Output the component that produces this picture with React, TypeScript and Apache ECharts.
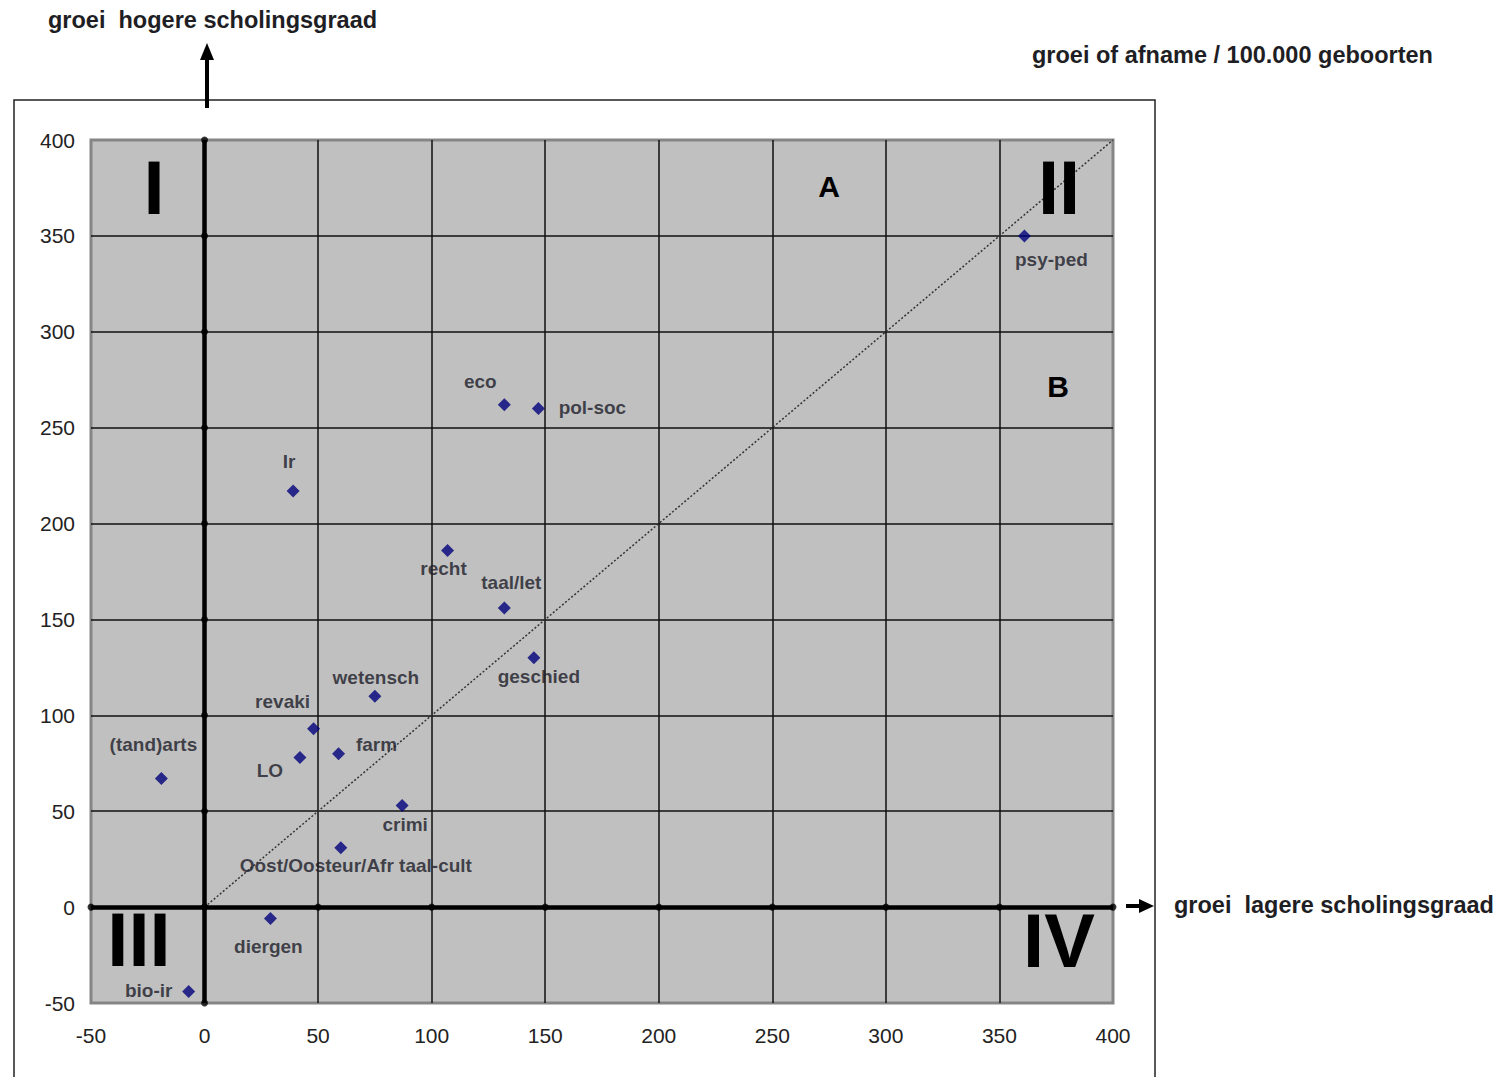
import React, { useEffect, useRef } from "react";
import * as echarts from "echarts";

// ---- data ----
const names = [
  "psy-ped", "eco", "pol-soc", "Ir", "recht", "taal/let", "geschied", "wetensch",
  "revaki", "LO", "farm", "(tand)arts", "crimi", "Oost/Oosteur/Afr taal-cult", "diergen", "bio-ir",
];
const lowerGrowth = [361, 132, 147, 39, 107, 132, 145, 75, 48, 42, 59, -19, 87, 60, 29, -7];
const higherGrowth = [350, 262, 260, 217, 186, 156, 130, 110, 93, 78, 80, 67, 53, 31, -6, -44];
const xTicks = [-50, 0, 50, 100, 150, 200, 250, 300, 350, 400];
const yTicks = [-50, 0, 50, 100, 150, 200, 250, 300, 350, 400];
const diagonal = [[0, 0], [400, 400]];

// label offsets (px, style only)
const labelOffsets: [number, number][] = [
  [27, 24], [-24, -23], [54, -1], [-4, -29], [-4, 18], [7, -25], [5, 19], [1, -19],
  [-31, -27], [-30, 13], [38, -9], [-8, -34], [3, 19], [15, 18], [-2, 28], [-40, -1],
];

const FONT = "'Liberation Sans', Arial, sans-serif";

export default function App() {
  const ref = useRef<HTMLDivElement>(null);
  useEffect(() => {
    if (!ref.current) return;
    const chart = echarts.init(ref.current, undefined, { renderer: "svg" });
    const points = names.map((n, i) => ({
      name: n,
      value: [lowerGrowth[i], higherGrowth[i]],
      label: {
        show: true,
        position: "inside",
        offset: labelOffsets[i],
        formatter: n,
        color: "#1c1c28",
        fontSize: 19,
        fontWeight: "bold",
        fontFamily: FONT,
      },
    }));
    const tickDots = [
      ...xTicks.map((t) => [t, 0]),
      ...yTicks.map((t) => [0, t]),
    ];
    const bigText = (text: string, x: number, y: number, size: number) => ({
      type: "text",
      x,
      y,
      z: 50,
      style: {
        text,
        x: 0,
        y: 0,
        align: "center",
        verticalAlign: "middle",
        fill: "#000",
        font: `bold ${size}px ${FONT}`,
        lineHeight: Math.round(size * 0.72),
      },
    });
    const splitLine = {
      show: true,
      showMinLine: false,
      showMaxLine: false,
      lineStyle: { color: "#111", width: 1.5 },
    };
    chart.setOption({
      animation: false,
      backgroundColor: "#fff",
      grid: {
        left: 91,
        top: 140,
        width: 1022,
        height: 863,
        show: true,
        backgroundColor: "#c0c0c0",
        borderColor: "#858585",
        borderWidth: 3,
      },
      xAxis: {
        type: "value",
        min: -50,
        max: 400,
        interval: 50,
        axisLine: { show: false },
        axisTick: { show: false },
        splitLine,
        axisLabel: { fontSize: 21, color: "#222", fontFamily: FONT, margin: 22 },
      },
      yAxis: {
        type: "value",
        min: -50,
        max: 400,
        interval: 50,
        axisLine: { show: false },
        axisTick: { show: false },
        splitLine,
        axisLabel: { fontSize: 21, color: "#222", fontFamily: FONT, margin: 16 },
      },
      series: [
        {
          type: "line",
          data: diagonal,
          showSymbol: false,
          symbol: "none",
          z: 3,
          lineStyle: { color: "#333", width: 1.5, type: [2, 2] },
          silent: true,
        },
        {
          type: "scatter",
          data: tickDots,
          symbol: "circle",
          symbolSize: 7,
          itemStyle: { color: "#000" },
          z: 4,
          silent: true,
          markLine: {
            silent: true,
            symbol: ["none", "none"],
            label: { show: false },
            lineStyle: { color: "#000", width: 4.5, type: "solid" },
            data: [{ xAxis: 0 }, { yAxis: 0 }],
          },
        },
        {
          type: "scatter",
          data: points,
          symbol: "diamond",
          symbolSize: 13,
          itemStyle: { color: "#00007a" },
          z: 10,
        },
      ],
      graphic: [
        {
          type: "rect",
          shape: { x: 14, y: 100, width: 1141, height: 1100 },
          style: { fill: "none", stroke: "#222", lineWidth: 1.5 },
          z: -1,
          silent: true,
        },
        {
          type: "line",
          shape: { x1: 207, y1: 108, x2: 207, y2: 56 },
          style: { stroke: "#000", lineWidth: 4 },
        },
        {
          type: "polygon",
          shape: { points: [[200, 60], [214, 60], [207, 43]] },
          style: { fill: "#000" },
        },
        {
          type: "line",
          shape: { x1: 1126, y1: 906, x2: 1142, y2: 906 },
          style: { stroke: "#000", lineWidth: 4 },
        },
        {
          type: "polygon",
          shape: { points: [[1139, 899], [1139, 913], [1154, 906]] },
          style: { fill: "#000" },
        },
        {
          type: "text",
          x: 48,
          y: 20,
          style: {
            text: "groei  hogere scholingsgraad",
            verticalAlign: "middle",
            fill: "#1e1e24",
            font: `bold 23.5px ${FONT}`,
          },
        },
        {
          type: "text",
          x: 1032,
          y: 55,
          style: {
            text: "groei of afname / 100.000 geboorten",
            verticalAlign: "middle",
            fill: "#1e1e24",
            font: `bold 23.5px ${FONT}`,
          },
        },
        {
          type: "text",
          x: 1174,
          y: 905,
          style: {
            text: "groei  lagere scholingsgraad",
            verticalAlign: "middle",
            fill: "#1e1e24",
            font: `bold 23.5px ${FONT}`,
          },
        },
        bigText("I", 154, 187, 76),
        bigText("II", 1059, 187, 76),
        bigText("III", 139, 939, 76),
        bigText("IV", 1059, 940, 76),
        bigText("A", 829, 186, 30),
        bigText("B", 1058, 386, 30),
      ],
    });
    return () => chart.dispose();
  }, []);
  return (
    <div
      ref={ref}
      style={{ position: "fixed", left: 0, top: 0, width: 1502, height: 1077 }}
    />
  );
}
